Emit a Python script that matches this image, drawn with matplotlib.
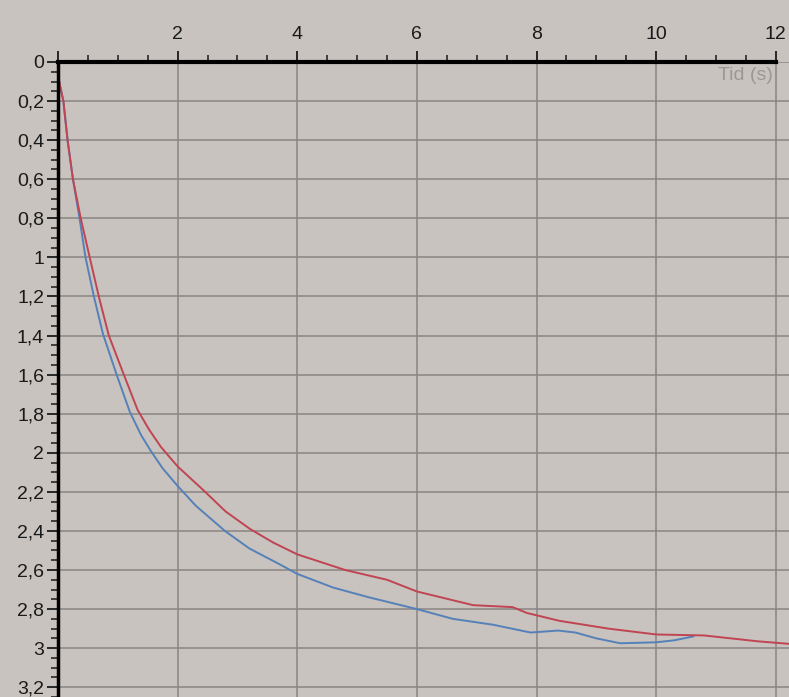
import matplotlib.pyplot as plt
from matplotlib.ticker import MultipleLocator, FuncFormatter

# blue series (time s, value)
blue_t = [0.0, 0.04, 0.09, 0.16, 0.25, 0.36, 0.46, 0.6, 0.75, 0.98, 1.2, 1.39,
          1.55, 1.75, 2.0, 2.3, 2.79, 3.2, 3.7, 4.0, 4.6, 5.2, 6.0, 6.6, 7.27,
          7.9, 8.36, 8.65, 9.0, 9.4, 10.0, 10.3, 10.62]
blue_v = [0.07, 0.13, 0.2, 0.4, 0.6, 0.8, 1.0, 1.2, 1.39, 1.6, 1.79, 1.91,
          1.99, 2.08, 2.17, 2.27, 2.4, 2.49, 2.57, 2.62, 2.69, 2.74, 2.8, 2.85, 2.88,
          2.92, 2.91, 2.92, 2.95, 2.975, 2.97, 2.96, 2.94]

# red series
red_t = [0.0, 0.04, 0.09, 0.16, 0.25, 0.38, 0.53, 0.69, 0.85, 1.1, 1.33, 1.52,
         1.72, 2.0, 2.46, 2.8, 3.21, 3.6, 4.0, 4.8, 5.5, 6.0, 6.94, 7.6, 7.84,
         8.38, 9.2, 10.0, 10.8, 11.7, 12.3]
red_v = [0.07, 0.13, 0.2, 0.4, 0.6, 0.8, 1.0, 1.21, 1.4, 1.6, 1.78, 1.88,
         1.97, 2.07, 2.2, 2.3, 2.39, 2.46, 2.52, 2.6, 2.65, 2.71, 2.78, 2.79, 2.82,
         2.86, 2.9, 2.93, 2.935, 2.965, 2.98]

bg = '#c8c3bf'
fig = plt.figure(figsize=(7.89, 6.97), dpi=100, facecolor=bg)
ax = fig.add_axes([58 / 789, 0, 731 / 789, 635 / 697], facecolor=bg)

ax.plot(blue_t, blue_v, color='#5581b8', lw=1.4)
ax.plot(red_t, red_v, color='#c04452', lw=1.4)

ax.set_xlim(0, 12.22)
ax.set_ylim(3.25, 0)

ax.xaxis.set_major_locator(MultipleLocator(2))
ax.xaxis.set_minor_locator(MultipleLocator(0.5))
ax.yaxis.set_major_locator(MultipleLocator(0.2))
ax.yaxis.set_minor_locator(MultipleLocator(0.05))

ax.xaxis.tick_top()
ax.xaxis.set_major_formatter(FuncFormatter(lambda v, p: '' if v == 0 else f'{v:g}'))
ax.yaxis.set_major_formatter(FuncFormatter(lambda v, p: f'{v:.1f}'.rstrip('0').rstrip('.').replace('.', ',')))

ax.tick_params(axis='both', which='major', direction='out', length=8, width=1.3,
               labelsize=14, colors='#1a1a1a')
ax.tick_params(axis='both', which='minor', direction='out', length=5, width=1.1,
               colors='#1a1a1a')
ax.tick_params(axis='x', which='major', pad=6)
ax.tick_params(axis='y', which='major', pad=2)
for lab in ax.get_xticklabels() + ax.get_yticklabels():
    lab.set_family('Liberation Sans')

ax.grid(True, which='major', color='#8a8582', lw=1.1)
ax.set_axisbelow(True)

ax.spines['right'].set_visible(False)
ax.spines['bottom'].set_visible(False)
ax.spines['top'].set_linewidth(3)
ax.spines['left'].set_linewidth(2.5)
ax.spines['top'].set_bounds(0, 12)

ax.text(11.95, 0.025, 'Tid (s)', ha='right', va='top', fontsize=14,
        color='#9a9896', family='Liberation Sans')

plt.savefig('out.png', dpi=100, facecolor=bg)
plt.close()
